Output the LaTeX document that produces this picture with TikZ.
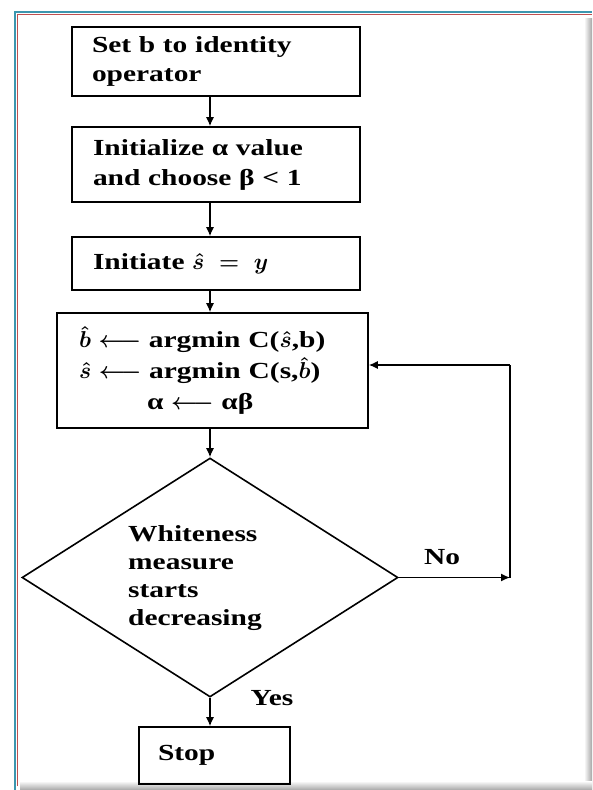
\RequirePackage{fix-cm}
\documentclass[tikz,border=0pt]{standalone}
\usepackage{fontspec}
\setmainfont[FakeStretch=1.28]{Liberation Serif}
\usetikzlibrary{arrows.meta,shapes.geometric,calc}
\definecolor{frameteal}{RGB}{60,150,175}
\definecolor{framered}{RGB}{190,80,80}
\begin{document}
\begin{tikzpicture}[x=1pt,y=-1pt,
  txt/.style={font=\fontsize{23}{29}\selectfont\bfseries\boldmath},
  box/.style={txt,draw,line width=1.6pt,rectangle,inner ysep=0pt,align=left},
  conn/.style={line width=1.3pt,-{Latex[length=9pt,width=8pt]}},
  plain/.style={line width=1.3pt},
  lbl/.style={txt,inner sep=0pt}]
\useasboundingbox (0,0) rectangle (592,790);
% page frame and shadow
\shade[left color=white,right color=gray!70] (584,18) rectangle (592,790);
\shade[top color=white,bottom color=gray!70] (20,781) rectangle (592,790);
\draw[frameteal,line width=1.4pt] (15,790) -- (15,12) -- (592,12);
\draw[framered,line width=1.2pt] (17.6,786) -- (17.6,14.5) -- (592,14.5);

% boxes
\node[box,minimum width=288pt,minimum height=69pt,inner xsep=20pt,text width=248pt] (b1) at (216,61.5)
  {Set b to identity\\operator};
\node[box,minimum width=288pt,minimum height=75pt,inner xsep=21pt,text width=246pt,font=\fontsize{23}{30}\selectfont\bfseries\boldmath] (b2) at (216,164.5)
  {Initialize α value\\and choose β < 1};
\node[box,minimum width=288pt,minimum height=53pt,inner xsep=21pt,text width=246pt] (b3) at (216,263.5)
  {Initiate \(\hat{s}\;=\;y\)};
\node[box,minimum width=311pt,minimum height=115pt,inner xsep=22pt,text width=267pt,font=\fontsize{23}{31}\selectfont\bfseries\boldmath] (b4) at (212.5,370.5)
  {\(\hat{b}\) \(\longleftarrow\) argmin\hspace{8pt}C(\(\hat{s}\),b)\\
   \(\hat{s}\) \(\longleftarrow\) argmin\hspace{8pt}C(s,\(\hat{b}\))\\
   \hspace{68pt}α \(\longleftarrow\) αβ};
\node[draw,line width=1.6pt,shape=diamond,minimum width=376pt,minimum height=239pt,inner sep=0pt] (dia) at (210,577.5) {};
\node[lbl,anchor=west,align=left,font=\fontsize{23}{28}\selectfont\bfseries] (dtext) at (128,578)
  {Whiteness\\measure\\starts\\decreasing};
\node[box,minimum width=151pt,minimum height=57pt,inner xsep=19pt,text width=113pt] (stop) at (214.5,755.5)
  {Stop\\[6pt]};

% connectors
\draw[conn] (b1.south -| dia.north) -- (b2.north -| dia.north);
\draw[conn] (b2.south -| dia.north) -- (b3.north -| dia.north);
\draw[conn] (b3.south -| dia.north) -- (b4.north -| dia.north);
\draw[conn] (b4.south -| dia.north) -- (dia.north);
\draw[conn] (dia.south) -- (stop.north -| dia.south);
\coordinate (fbtop) at (510,365);
\coordinate (nocorner) at (dia.east -| fbtop);
\draw[conn] (dia.east) -- (nocorner);
\draw[plain] (nocorner) -- (fbtop);
\draw[conn] (fbtop) -- (fbtop -| b4.east);

% labels
\node[lbl] (no) at (442,557) {No};
\node[lbl] (yes) at (272,698) {Yes};
\end{tikzpicture}
\end{document}
